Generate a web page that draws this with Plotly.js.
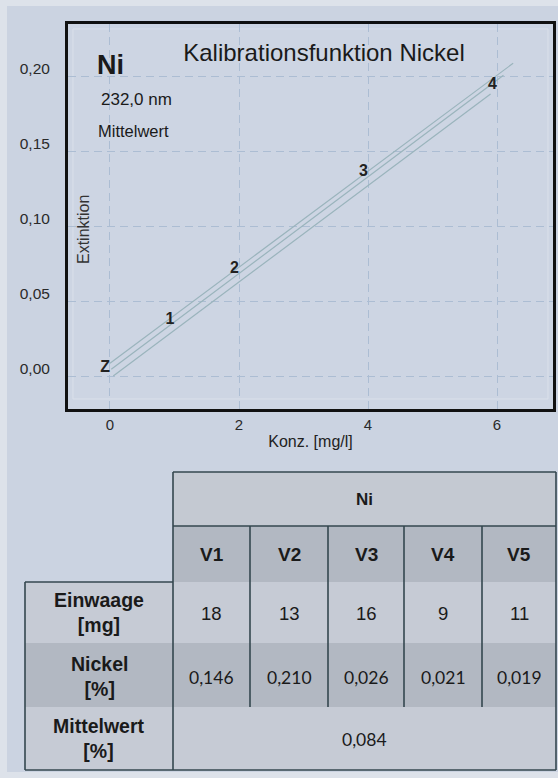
<!DOCTYPE html>
<html>
<head>
<meta charset="utf-8">
<script src="https://cdn.plot.ly/plotly-3.0.1.min.js"></script>
<style>
  html, body { margin: 0; padding: 0; background: #dde2ea; width: 558px; height: 778px; overflow: hidden; }
  #chart { position: absolute; left: 7px; top: 6px; width: 551px; height: 766px; }
</style>
</head>
<body>
<div id="chart"></div>
<script>
// ---------- data ----------
const conc = [0, 1, 2, 4, 6];                 // mg/l, calibration standards
const ext = [0.000, 0.032, 0.066, 0.131, 0.189]; // Extinktion
const stdLabels = ['Z', '1', '2', '3', '4'];

const upperX = [0, 6.25];
const upperY = [0.0085, 0.2085];
const midX = [0.02, 6.1];
const midY = [0.0045, 0.2005];
const lowerX = [0.05, 5.9];
const lowerY = [0.0000, 0.1880];

const xTicks = [0, 2, 4, 6];
const xTickText = ['0', '2', '4', '6'];
const yTicks = [0, 0.05, 0.10, 0.15, 0.20];
const yTickText = ['0,00', '0,05', '0,10', '0,15', '0,20'];

const runs = ['V1', 'V2', 'V3', 'V4', 'V5'];
const einwaage = [18, 13, 16, 9, 11];
const nickel = [0.146, 0.210, 0.026, 0.021, 0.019];
const mittelwert = 0.084;
const rowHeads = ['Einwaage<br>[mg]', 'Nickel<br>[%]', 'Mittelwert<br>[%]'];

// ---------- geometry helpers (page pixels -> paper) ----------
const PL = 68, PR = 553, PT = 24, PB = 409;
const PW = PR - PL, PH = PB - PT;
const X = px => (px - PL) / PW;
const Y = py => (PB - py) / PH;
const fmt = v => v.toFixed(3).replace('.', ',');

const FONT = 'Liberation Sans, Arial, sans-serif';
const BORDER = '#34474f';
const LINECOL = '#9ab4bc';

const traces = [
  { x: upperX, y: upperY, mode: 'lines', line: { color: LINECOL, width: 1.2 }, hoverinfo: 'skip', showlegend: false },
  { x: midX, y: midY, mode: 'lines', line: { color: LINECOL, width: 1.2 }, hoverinfo: 'skip', showlegend: false },
  { x: lowerX, y: lowerY, mode: 'lines', line: { color: LINECOL, width: 1.2 }, hoverinfo: 'skip', showlegend: false },
  { x: conc, y: ext, text: stdLabels, mode: 'text', textposition: 'top left',
    textfont: { family: FONT, size: 16, color: '#222', weight: 'bold' }, showlegend: false }
];

// ---------- table (shapes + annotations) ----------
const colEdges = [173, 250, 328, 404, 482, 556];
const rowEdges = { niTop: 472, vTop: 526, r1: 582, r2: 643, r3: 707, bottom: 770 };
const tabLeft = 25;
const LIGHT = '#c6cbd5', DARK = '#b2b8c2', HEAD = '#c4c9d2';

const shapes = [];
function rect(x0, y0, x1, y1, fill) {
  shapes.push({ type: 'rect', xref: 'paper', yref: 'paper', x0: X(x0), x1: X(x1), y0: Y(y1), y1: Y(y0),
    fillcolor: fill, line: { width: 0 }, layer: 'below' });
}
function line(x0, y0, x1, y1, w) {
  shapes.push({ type: 'line', xref: 'paper', yref: 'paper', x0: X(x0), x1: X(x1), y0: Y(y0), y1: Y(y1),
    line: { color: BORDER, width: w || 1.6 } });
}
// faint inner frame
shapes.push({ type: 'rect', xref: 'paper', yref: 'paper', x0: X(PL + 5), x1: X(PR - 5), y0: Y(PB - 10), y1: Y(PT + 5),
  line: { color: '#dae0ea', width: 1 }, fillcolor: 'rgba(0,0,0,0)', layer: 'below' });

rect(colEdges[0], rowEdges.niTop, colEdges[5], rowEdges.vTop, HEAD);
rect(colEdges[0], rowEdges.vTop, colEdges[5], rowEdges.r1, DARK);
rect(tabLeft, rowEdges.r1, colEdges[5], rowEdges.r2, LIGHT);
rect(tabLeft, rowEdges.r2, colEdges[5], rowEdges.r3, DARK);
rect(tabLeft, rowEdges.r3, colEdges[5], rowEdges.bottom, LIGHT);

line(colEdges[0], rowEdges.niTop, colEdges[5], rowEdges.niTop);
line(colEdges[0], rowEdges.vTop, colEdges[5], rowEdges.vTop);
line(colEdges[0], rowEdges.niTop, colEdges[0], rowEdges.bottom);
line(colEdges[5], rowEdges.niTop, colEdges[5], rowEdges.bottom);
for (let i = 1; i < 5; i++) line(colEdges[i], rowEdges.vTop, colEdges[i], rowEdges.r3);
line(tabLeft, rowEdges.r1, colEdges[0], rowEdges.r1);
line(tabLeft, rowEdges.r1, tabLeft, rowEdges.bottom);
line(tabLeft, rowEdges.bottom, colEdges[5], rowEdges.bottom);

const annotations = [];
function txt(px, py, text, size, opts) {
  annotations.push(Object.assign({ xref: 'paper', yref: 'paper', x: X(px), y: Y(py), text: text,
    showarrow: false, xanchor: 'center', yanchor: 'middle',
    font: { family: FONT, size: size, color: '#1a1a1a' } }, opts || {}));
}
// chart texts
txt(95, 65, '<b>Ni</b>', 27, { xanchor: 'left' });
txt(99, 100, '232,0 nm', 17, { xanchor: 'left' });
txt(96, 131, 'Mittelwert', 16.5, { xanchor: 'left' });
txt(84, 230, 'Extinktion', 16, { textangle: -90, font: { family: FONT, size: 16, color: '#333' } });

// table texts
txt((colEdges[0] + colEdges[5]) / 2, 499, '<b>Ni</b>', 17);
const colCenters = runs.map((r, i) => (colEdges[i] + colEdges[i + 1]) / 2);
runs.forEach((r, i) => txt(colCenters[i], 554, '<b>' + r + '</b>', 19));
const rowCenters = [612, 676, 738];
rowHeads.forEach((h, i) => txt((tabLeft + colEdges[0]) / 2, rowCenters[i], '<b>' + h + '</b>', 19.5));
einwaage.forEach((v, i) => txt(colCenters[i], 613, String(v), 18.5));
nickel.forEach((v, i) => txt(colCenters[i], 677, fmt(v), 17, { font: { family: 'Lato, sans-serif', size: 17.5, color: '#1a1a1a' } }));
txt((colEdges[0] + colEdges[5]) / 2, 739, fmt(mittelwert), 17, { font: { family: 'Lato, sans-serif', size: 17.5, color: '#1a1a1a' } });

const layout = {
  width: 551, height: 766,
  margin: { l: 61, r: 5, t: 18, b: 363, pad: 0 },
  paper_bgcolor: '#cbd3e1',
  plot_bgcolor: '#cdd5e3',
  showlegend: false,
  title: { text: 'Kalibrationsfunktion Nickel', xref: 'container', yref: 'container',
    x: (324 - 7) / 551, y: 1 - (53 - 6) / 766, xanchor: 'center', yanchor: 'middle',
    font: { family: FONT, size: 24, color: '#1a1a1a' } },
  xaxis: {
    range: [-0.651, 6.868], tickvals: xTicks, ticktext: xTickText,
    showgrid: true, gridcolor: '#acbdd3', griddash: '8px,5px', gridwidth: 1,
    zeroline: false, showline: true, mirror: true, linecolor: '#111', linewidth: 3,
    ticks: '', tickfont: { family: FONT, size: 15, color: '#2a2a2a' },
    title: { text: 'Konz. [mg/l]', font: { family: FONT, size: 16, color: '#222' }, standoff: 4 },
    fixedrange: true
  },
  yaxis: {
    range: [-0.022, 0.2347], tickvals: yTicks, ticktext: yTickText,
    showgrid: true, gridcolor: '#acbdd3', griddash: '8px,5px', gridwidth: 1,
    zeroline: false, showline: true, mirror: true, linecolor: '#111', linewidth: 3,
    ticks: '', ticklabelshift: -7, ticklabelstandoff: 12,
    tickfont: { family: FONT, size: 15.5, color: '#2a2a2a' },
    fixedrange: true
  },
  shapes: shapes,
  annotations: annotations
};

Plotly.newPlot('chart', traces, layout, { displayModeBar: false, staticPlot: true });
</script>
</body>
</html>
